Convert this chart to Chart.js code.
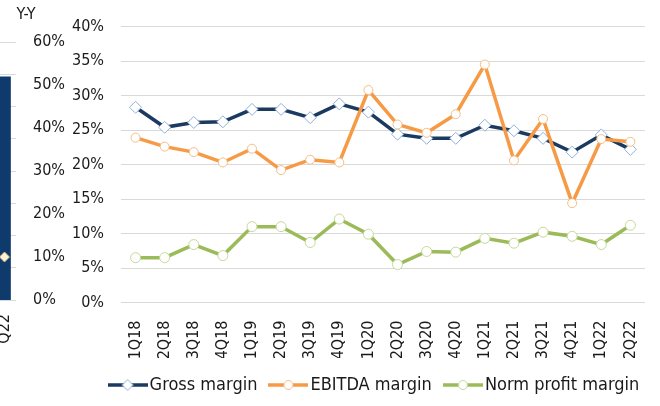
<!DOCTYPE html>
<html>
<head>
<meta charset="utf-8">
<script src="https://cdn.jsdelivr.net/npm/chart.js@4"></script>
<style>
html, body { margin: 0; padding: 0; background: #fff; }
#wrap { position: relative; width: 660px; height: 406px; overflow: hidden; }
#main { position: absolute; left: 0; top: 0; }
#side { position: absolute; left: -13px; top: 0; }
</style>
</head>
<body>
<div id="wrap">
  <canvas id="main" width="660" height="406"></canvas>
  <canvas id="side" width="78" height="345"></canvas>
</div>
<script>
// quarterly margins, in %
const quarters = ['1Q18','2Q18','3Q18','4Q18','1Q19','2Q19','3Q19','4Q19','1Q20','2Q20','3Q20','4Q20','1Q21','2Q21','3Q21','4Q21','1Q22','2Q22']
const grossMargin = [28.3,25.4,26.1,26.2,28.0,28.0,26.8,28.8,27.6,24.4,23.8,23.8,25.7,24.9,23.8,21.8,24.3,22.2]
const ebitdaMargin = [23.9,22.6,21.8,20.3,22.3,19.2,20.7,20.3,30.8,25.8,24.6,27.3,34.5,20.6,26.6,14.4,23.7,23.3]
const normProfitMargin = [6.5,6.5,8.4,6.8,11.0,11.0,8.7,12.1,9.9,5.5,7.4,7.3,9.3,8.6,10.2,9.6,8.4,11.2]
const seriesNames = ['Gross margin', 'EBITDA margin', 'Norm profit margin']

// the cut-off neighbouring chart on the left edge
const sideCategories = ['2Q22']
const sideBar = [52]
const sideLine = [10]

const FONT = 'DejaVu Sans Condensed'
const TEXT = '#1a1a1a'
const GRID = '#D9D9D9'

const navy = '#1B3A60', orange = '#F79A45', green = '#9BBB59'

// little line+marker picture for legend entries
function lineIcon(color, edge, style) {
    const c = document.createElement('canvas')
    c.width = 40; c.height = 14
    const g = c.getContext('2d')
    g.strokeStyle = color; g.lineWidth = 3.5
    g.beginPath(); g.moveTo(0, 7); g.lineTo(40, 7); g.stroke()
    g.fillStyle = '#fff'; g.strokeStyle = edge; g.lineWidth = 1
    g.beginPath()
    if (style === 'rectRot') {
        g.moveTo(20, 1.5); g.lineTo(25.5, 7); g.lineTo(20, 12.5); g.lineTo(14.5, 7); g.closePath()
    } else {
        g.arc(20, 7, 4.5, 0, Math.PI * 2)
    }
    g.fill(); g.stroke()
    return c
}

const icons = [
    lineIcon(navy, '#8FB0D8', 'rectRot'),
    lineIcon(orange, '#F5BD85', 'circle'),
    lineIcon(green, '#C5D89A', 'circle')
]

function series(i, values, color, edge, style, radius, order) {
    return {
        label: seriesNames[i],
        data: values,
        borderColor: color,
        borderWidth: 3.5,
        tension: 0,
        pointStyle: style,
        pointRadius: radius,
        pointBackgroundColor: '#fff',
        pointBorderColor: edge,
        pointBorderWidth: 1,
        order: order
    }
}

// legend sits a bit right of the chart's centre in the original
const legendShift = {
    id: 'legendShift',
    afterLayout(chart) {
        chart.legend.left += 19.5
        chart.legend.right += 19.5
    }
}

new Chart(document.getElementById('main'), {
    type: 'line',
    data: {
        labels: quarters,
        datasets: [
            series(0, grossMargin, navy, '#8FB0D8', 'rectRot', 6, 3),
            series(1, ebitdaMargin, orange, '#F5BD85', 'circle', 4.5, 2),
            series(2, normProfitMargin, green, '#C5D89A', 'circle', 5, 1)
        ]
    },
    plugins: [legendShift],
    options: {
        responsive: false,
        animation: false,
        layout: { padding: { left: 70, right: 15, top: 16, bottom: 2 } },
        plugins: {
            tooltip: { enabled: false },
            legend: {
                position: 'bottom',
                labels: {
                    usePointStyle: true,
                    pointStyleWidth: 26,
                    padding: 18,
                    color: TEXT,
                    font: { family: FONT, size: 18 },
                    sort: (a, b) => a.datasetIndex - b.datasetIndex,
                    generateLabels: chart => {
                        const items = Chart.defaults.plugins.legend.labels.generateLabels(chart)
                        items.forEach(it => { it.pointStyle = icons[it.datasetIndex] })
                        return items
                    }
                }
            }
        },
        scales: {
            x: {
                offset: true,
                grid: { display: false },
                border: { display: false },
                ticks: { minRotation: 90, maxRotation: 90, autoSkip: false, padding: 10, color: TEXT, font: { family: FONT, size: 16 } },
                afterFit: s => { s.height = 55.5 }
            },
            y: {
                min: 0,
                max: 40,
                grid: { color: GRID, drawTicks: false },
                border: { display: false },
                ticks: { stepSize: 5, padding: 17, color: TEXT, font: { family: FONT, size: 16 }, callback: v => v + '%' },
                afterFit: s => { s.width = 51 }
            }
        }
    }
})

new Chart(document.getElementById('side'), {
    type: 'bar',
    data: {
        labels: sideCategories,
        datasets: [
            { type: 'bar', data: sideBar, yAxisID: 'y2', backgroundColor: '#0E3A6C', barPercentage: 0.55, categoryPercentage: 1, order: 1 },
            { type: 'line', data: sideLine, yAxisID: 'y2', showLine: false, pointStyle: 'rectRot', pointRadius: 5,
              pointBackgroundColor: '#FFF3D9', pointBorderColor: '#D8B273', pointBorderWidth: 1, order: 0 }
        ]
    },
    options: {
        responsive: false,
        animation: false,
        layout: { padding: 0 },
        plugins: {
            tooltip: { enabled: false },
            legend: { display: false },
            title: { display: true, text: 'Y-Y', color: TEXT, font: { family: FONT, size: 16, weight: 'normal' }, padding: { top: 5.5, bottom: 17.3 } }
        },
        scales: {
            x: {
                grid: { display: false },
                border: { display: false },
                ticks: { minRotation: 90, maxRotation: 90, padding: 6, color: TEXT, font: { family: FONT, size: 16 } },
                afterFit: s => { s.height = 45 }
            },
            y: {
                position: 'left',
                min: 0,
                max: 8,
                grid: { color: GRID, drawTicks: false },
                border: { display: false },
                ticks: { display: false, stepSize: 1 },
                afterFit: s => { s.width = 0 }
            },
            y2: {
                position: 'right',
                min: 0,
                max: 60,
                grid: { display: false, drawTicks: false },
                border: { display: false },
                ticks: { stepSize: 10, padding: 17, color: TEXT, font: { family: FONT, size: 16 }, callback: v => v + '%' },
                afterFit: s => { s.width = 49 }
            }
        }
    }
})
</script>
</body>
</html>
